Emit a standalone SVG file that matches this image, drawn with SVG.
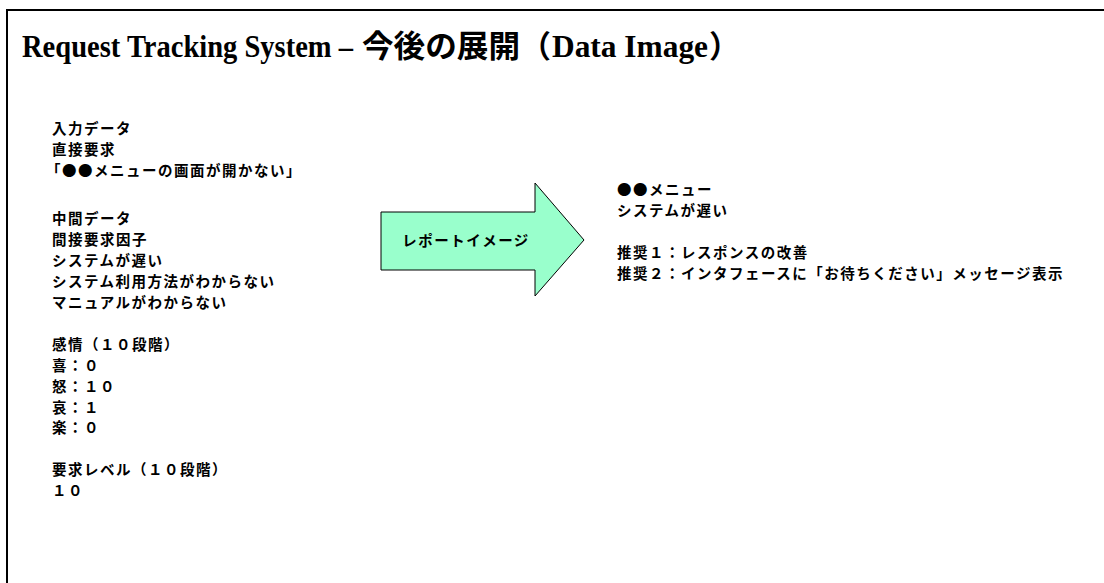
<svg xmlns="http://www.w3.org/2000/svg" width="1104" height="583" viewBox="0 0 1104 583">
<style>
.t{font-family:"Noto Sans CJK JP","Liberation Sans",sans-serif;font-size:14.5px;font-weight:bold;letter-spacing:1.5px;fill:#000;}
.ti{font-family:"Liberation Serif",serif;font-weight:bold;font-size:31px;fill:#000;}
.tj{font-family:"Noto Sans CJK JP",sans-serif;font-weight:bold;font-size:31px;fill:#000;}
</style>
<rect width="1104" height="583" fill="#fff"/>
<g id="frame">
<path d="M7,583 V10 H1104" fill="none" stroke="#000" stroke-width="2"/>
</g>
<g id="title">
<text class="ti" x="22" y="57" textLength="331" lengthAdjust="spacingAndGlyphs">Request Tracking System –</text>
<text class="tj" x="362" y="57" textLength="158" lengthAdjust="spacingAndGlyphs">今後の展開</text>
<text class="tj" x="520" y="57">（</text>
<text class="ti" x="552" y="57" textLength="156" lengthAdjust="spacingAndGlyphs">Data Image</text>
<text class="tj" x="709" y="57">）</text>
</g>
<g id="input">
<text class="t" x="52" y="134">入力データ</text>
<text class="t" x="52" y="155">直接要求</text>
<text class="t" x="46" y="176">「●●メニューの画面が開かない」</text>
<text class="t" x="52" y="224">中間データ</text>
<text class="t" x="52" y="245">間接要求因子</text>
<text class="t" x="52" y="266">システムが遅い</text>
<text class="t" x="52" y="287">システム利用方法がわからない</text>
<text class="t" x="52" y="308">マニュアルがわからない</text>
<text class="t" x="52" y="350">感情（１０段階）</text>
<text class="t" x="52" y="371">喜：０</text>
<text class="t" x="52" y="392">怒：１０</text>
<text class="t" x="52" y="413">哀：１</text>
<text class="t" x="52" y="433">楽：０</text>
<text class="t" x="52" y="475">要求レベル（１０段階）</text>
<text class="t" x="52" y="496">１０</text>
</g>
<g id="arrow">
<polygon points="381,212 535,212 535,183 584,240 535,296 535,270 381,270" fill="#99FFCC" stroke="#000" stroke-width="1"/>
<text class="t" x="466" y="246" text-anchor="middle">レポートイメージ</text>
</g>
<g id="report">
<text class="t" x="617" y="195">●●メニュー</text>
<text class="t" x="617" y="216">システムが遅い</text>
<text class="t" x="617" y="258">推奨１：レスポンスの改善</text>
<text class="t" x="617" y="279">推奨２：インタフェースに「お待ちください」メッセージ表示</text>
</g>
</svg>
